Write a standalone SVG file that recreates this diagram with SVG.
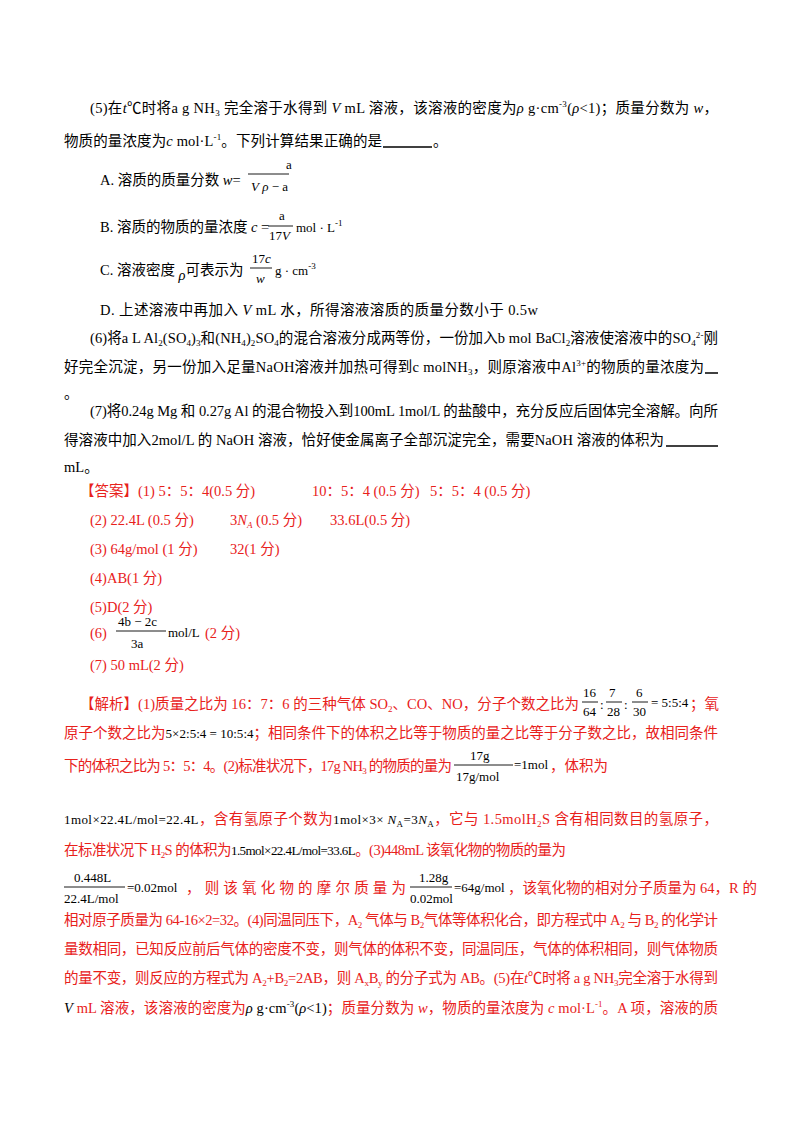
<svg xmlns="http://www.w3.org/2000/svg" width="800" height="1132" viewBox="0 0 800 1132">
<style>
text{font-family:"Liberation Serif","Noto Sans CJK SC",serif;font-size:14.5px;fill:#000}
.r{fill:#e8211b}
.k{fill:#000}
.i{font-style:italic}
.s{font-size:9px}
.f{font-size:13px}
line{stroke:#000;stroke-width:0.9}
</style>
<rect width="800" height="1132" fill="#fff"/>
<g id="q5">
<text x="90" y="113" textLength="628" lengthAdjust="spacing">(5)在<tspan class="i">t</tspan>℃时将a g  NH<tspan class="s" dy="3">3</tspan><tspan dy="-3"> 完全溶于水得到 </tspan><tspan class="i">V</tspan> mL 溶液，该溶液的密度为<tspan class="i">ρ</tspan> g·cm<tspan class="s" dy="-6">-3</tspan><tspan dy="6">(</tspan><tspan class="i">ρ</tspan>&lt;1)；质量分数为 <tspan class="i">w</tspan>，</text>
<text x="64" y="146" textLength="318" lengthAdjust="spacing">物质的量浓度为<tspan class="i">c</tspan>  mol·L<tspan class="s" dy="-6">-1</tspan><tspan dy="6">。下列计算结果正确的是</tspan></text>
<text x="433" y="146">。</text>
<line x1="383" y1="147" x2="432" y2="147" style="stroke-width:1.5"/>
<text x="100" y="185">A.  溶质的质量分数 <tspan class="i">w</tspan>=</text>
<text x="286" y="169" class="f">a</text>
<line x1="248" y1="174" x2="289" y2="174"/>
<text x="251" y="191" class="f"><tspan class="i">V</tspan> <tspan class="i">ρ</tspan> − a</text>
<text x="100" y="232">B.  溶质的物质的量浓度 <tspan class="i">c</tspan> =</text>
<text x="279" y="220" class="f">a</text>
<line x1="268" y1="226" x2="293" y2="226"/>
<text x="269" y="240" class="f">17<tspan class="i">V</tspan></text>
<text x="296" y="232" class="f">mol · L<tspan class="s" dy="-6">-1</tspan></text>
<text x="100" y="275">C.  溶液密度 <tspan class="i" dy="5">ρ</tspan><tspan dy="-5">可表示为</tspan></text>
<text x="252" y="263" class="f">17<tspan class="i">c</tspan></text>
<line x1="250" y1="268" x2="272" y2="268"/>
<text x="256" y="283" class="f i">w</text>
<text x="275" y="275" class="f">g · cm<tspan class="s" dy="-6">-3</tspan></text>
<text x="100" y="315" textLength="438" lengthAdjust="spacing">D.  上述溶液中再加入 <tspan class="i">V</tspan> mL 水，所得溶液溶质的质量分数小于 0.5w</text>
</g>
<g id="q6">
<text x="90" y="343" textLength="628" lengthAdjust="spacing">(6)将a L  Al<tspan class="s" dy="3">2</tspan><tspan dy="-3">(SO</tspan><tspan class="s" dy="3">4</tspan><tspan dy="-3">)</tspan><tspan class="s" dy="3">3</tspan><tspan dy="-3">和(NH</tspan><tspan class="s" dy="3">4</tspan><tspan dy="-3">)</tspan><tspan class="s" dy="3">2</tspan><tspan dy="-3">SO</tspan><tspan class="s" dy="3">4</tspan><tspan dy="-3">的混合溶液分成两等份，一份加入b mol  BaCl</tspan><tspan class="s" dy="3">2</tspan><tspan dy="-3">溶液使溶液中的SO</tspan><tspan class="s" dy="3">4</tspan><tspan class="s" dy="-8">2-</tspan><tspan dy="5">刚</tspan></text>
<text x="64" y="372" textLength="640" lengthAdjust="spacing">好完全沉淀，另一份加入足量NaOH溶液并加热可得到c molNH<tspan class="s" dy="3">3</tspan><tspan dy="-3">，则原溶液中Al</tspan><tspan class="s" dy="-6">3+</tspan><tspan dy="6">的物质的量浓度为</tspan></text>
<line x1="705" y1="373" x2="718" y2="373" style="stroke-width:1.5"/>
<text x="64" y="398">。</text>
</g>
<g id="q7">
<text x="90" y="416" textLength="628" lengthAdjust="spacing">(7)将0.24g Mg 和 0.27g Al 的混合物投入到100mL 1mol/L 的盐酸中，充分反应后固体完全溶解。向所</text>
<text x="64" y="445" textLength="600" lengthAdjust="spacing">得溶液中加入2mol/L 的 NaOH 溶液，恰好使金属离子全部沉淀完全，需要NaOH 溶液的体积为</text>
<line x1="666" y1="446" x2="718" y2="446" style="stroke-width:1.5"/>
<text x="64" y="472">mL。</text>
</g>
<g id="answer">
<text x="80" y="496" class="r">【答案】(1) 5：5：4(0.5 分)</text>
<text x="312" y="496" class="r">10：5：4  (0.5 分)</text>
<text x="430" y="496" class="r">5：5：4  (0.5 分)</text>
<text x="90" y="525" class="r">(2) 22.4L (0.5 分)</text>
<text x="230" y="525" class="r">3<tspan class="i">N<tspan class="s" dy="3">A</tspan></tspan><tspan dy="-3">  (0.5 分)</tspan></text>
<text x="330" y="525" class="r">33.6L(0.5 分)</text>
<text x="90" y="554" class="r">(3) 64g/mol (1 分)</text>
<text x="230" y="554" class="r">32(1 分)</text>
<text x="90" y="583" class="r">(4)AB(1 分)</text>
<text x="90" y="612" class="r">(5)D(2 分)</text>
<text x="90" y="638" class="r">(6)</text>
<text x="118" y="626" class="f">4b − 2c</text>
<line x1="116" y1="631" x2="166" y2="631"/>
<text x="131" y="648" class="f">3a</text>
<text x="168" y="637" class="f">mol/L</text>
<text x="205" y="638" class="r">(2 分)</text>
<text x="90" y="670" class="r">(7) 50  mL(2 分)</text>
</g>
<g id="analysis">
<text x="80" y="709" class="r" textLength="499" lengthAdjust="spacing">【解析】(1)质量之比为 16：7：6 的三种气体 SO<tspan class="s" dy="3">2</tspan><tspan dy="-3">、CO、NO，分子个数之比为</tspan></text>
<text x="583" y="697" class="f">16</text><line x1="582" y1="702" x2="598" y2="702"/><text x="583" y="716" class="f">64</text>
<text x="600" y="709" class="f">:</text>
<text x="609" y="697" class="f">7</text><line x1="606" y1="702" x2="622" y2="702"/><text x="607" y="716" class="f">28</text>
<text x="624" y="709" class="f">:</text>
<text x="636" y="697" class="f">6</text><line x1="632" y1="702" x2="648" y2="702"/><text x="633" y="716" class="f">30</text>
<text x="651" y="707" class="f">= 5:5:4</text>
<text x="690" y="709" class="r">；氧</text>
<text x="64" y="738" class="r" textLength="654" lengthAdjust="spacing">原子个数之比为<tspan class="k f">5×2:5:4 = 10:5:4</tspan>；相同条件下的体积之比等于物质的量之比等于分子数之比，故相同条件</text>
<text x="64" y="771" class="r" textLength="388" lengthAdjust="spacing">下的体积之比为 5：5：4。(2)标准状况下，17g  NH<tspan class="s" dy="3">3</tspan><tspan dy="-3"> 的物质的量为</tspan></text>
<text x="470" y="760" class="f">17g</text>
<line x1="454" y1="765" x2="513" y2="765"/>
<text x="456" y="781" class="f">17g/mol</text>
<text x="514" y="769" class="f">=1mol</text>
<text x="550" y="771" class="r">，体积为</text>
<text x="64" y="824" class="r" textLength="654" lengthAdjust="spacing"><tspan class="k f">1mol×22.4L/mol=22.4L</tspan>，含有氢原子个数为<tspan class="k f">1mol×3× <tspan class="i">N</tspan><tspan class="s" dy="3">A</tspan><tspan dy="-3">=3</tspan><tspan class="i">N</tspan><tspan class="s" dy="3">A</tspan></tspan><tspan dy="-3">，它与 1.5molH</tspan><tspan class="s" dy="3">2</tspan><tspan dy="-3">S 含有相同数目的氢原子，</tspan></text>
<text x="64" y="855" class="r" textLength="502" lengthAdjust="spacing">在标准状况下  H<tspan class="s" dy="3">2</tspan><tspan dy="-3">S 的体积为</tspan><tspan class="k f">1.5mol×22.4L/mol=33.6L</tspan>。(3)448mL 该氧化物的物质的量为</text>
<text x="74" y="882" class="f">0.448L</text>
<line x1="64" y1="887" x2="125" y2="887"/>
<text x="64" y="903" class="f">22.4L/mol</text>
<text x="127" y="892" class="f">=0.02mol</text>
<text x="186" y="893" class="r" textLength="220" lengthAdjust="spacing">，则该氧化物的摩尔质量为</text>
<text x="419" y="882" class="f">1.28g</text>
<line x1="410" y1="887" x2="452" y2="887"/>
<text x="410" y="903" class="f">0.02mol</text>
<text x="454" y="892" class="f">=64g/mol</text>
<text x="508" y="893" class="r">，该氧化物的相对分子质量为 64，R 的</text>
<text x="64" y="925" class="r" textLength="654" lengthAdjust="spacing">相对原子质量为 64-16×2=32。(4)同温同压下，A<tspan class="s" dy="3">2</tspan><tspan dy="-3"> 气体与 B</tspan><tspan class="s" dy="3">2</tspan><tspan dy="-3">气体等体积化合，即方程式中 A</tspan><tspan class="s" dy="3">2</tspan><tspan dy="-3"> 与 B</tspan><tspan class="s" dy="3">2</tspan><tspan dy="-3"> 的化学计</tspan></text>
<text x="64" y="954" class="r" textLength="654" lengthAdjust="spacing">量数相同，已知反应前后气体的密度不变，则气体的体积不变，同温同压，气体的体积相同，则气体物质</text>
<text x="64" y="983" class="r" textLength="654" lengthAdjust="spacing">的量不变，则反应的方程式为 A<tspan class="s" dy="3">2</tspan><tspan dy="-3">+B</tspan><tspan class="s" dy="3">2</tspan><tspan dy="-3">=2AB，则 A</tspan><tspan class="s" dy="3">x</tspan><tspan dy="-3">B</tspan><tspan class="s" dy="3">y</tspan><tspan dy="-3"> 的分子式为 AB。(5)在</tspan><tspan class="i">t</tspan>℃时将 a g  NH<tspan class="s" dy="3">3</tspan><tspan dy="-3">完全溶于水得到</tspan></text>
<text x="64" y="1013" class="r" textLength="654" lengthAdjust="spacing"><tspan class="k i">V</tspan>  mL 溶液，该溶液的密度为<tspan class="k"><tspan class="i">ρ</tspan> g·cm<tspan class="s" dy="-6">-3</tspan><tspan dy="6">(</tspan><tspan class="i">ρ</tspan>&lt;1)</tspan>；质量分数为 <tspan class="i">w</tspan>，物质的量浓度为 <tspan class="i">c</tspan>  mol·L<tspan class="s" dy="-6">-1</tspan><tspan dy="6">。A 项，溶液的质</tspan></text>
</g>
</svg>
